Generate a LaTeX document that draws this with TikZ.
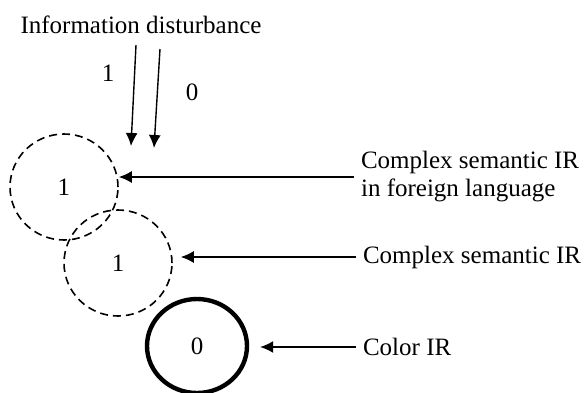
\documentclass[tikz,border=0pt]{standalone}
\usepackage{fontspec}
\setmainfont{Liberation Serif}
\usetikzlibrary{arrows.meta,shapes.geometric}

\begin{document}
\begin{tikzpicture}[x=0.5pt,y=-0.5pt,
  every node/.style={font=\fontsize{12.5}{14}\selectfont},
  ir/.style={draw,ellipse,minimum width=54pt,minimum height=53pt,inner sep=0pt},
  dash ir/.style={ir,dash pattern=on 4pt off 2.5pt,line width=0.8pt},
  arr/.style={-{Latex[length=6.5pt,width=6pt]},line width=0.7pt}]
\useasboundingbox (0,0) rectangle (585,392);

% disturbance
\node (dist) at (141,25) {Information disturbance};
\coordinate (s1) at (136,45);
\coordinate (t1) at (131,146);
\coordinate (s2) at (160,49);
\coordinate (t2) at (154,148);
\draw[arr] (s1) -- (t1);
\draw[arr] (s2) -- (t2);
\node (one) at (108,73) {1};
\node (zero) at (192,92) {0};

% circles
\node[dash ir] (c1) at (64,187) {1};
\node[dash ir] (c2) at (118,263) {1};
\node[ir,line width=2.2pt,minimum width=50pt,minimum height=47pt] (c3) at (197,346) {0};

% labels at right
\node[anchor=west,align=left] (l1) at (354,177) {Complex semantic IR\\in foreign language};
\node[anchor=west] (l2) at (356,257) {Complex semantic IR};
\node[anchor=west] (l3) at (356,347) {Color IR};
\draw[arr] (l1.west) -- (c1.east |- l1.west);
\draw[arr] (l2.west) -- ([xshift=4pt]c2.east |- l2.west);
\draw[arr] (l3.west) -- ([xshift=5.5pt]c3.east |- l3.west);

\end{tikzpicture}
\end{document}
